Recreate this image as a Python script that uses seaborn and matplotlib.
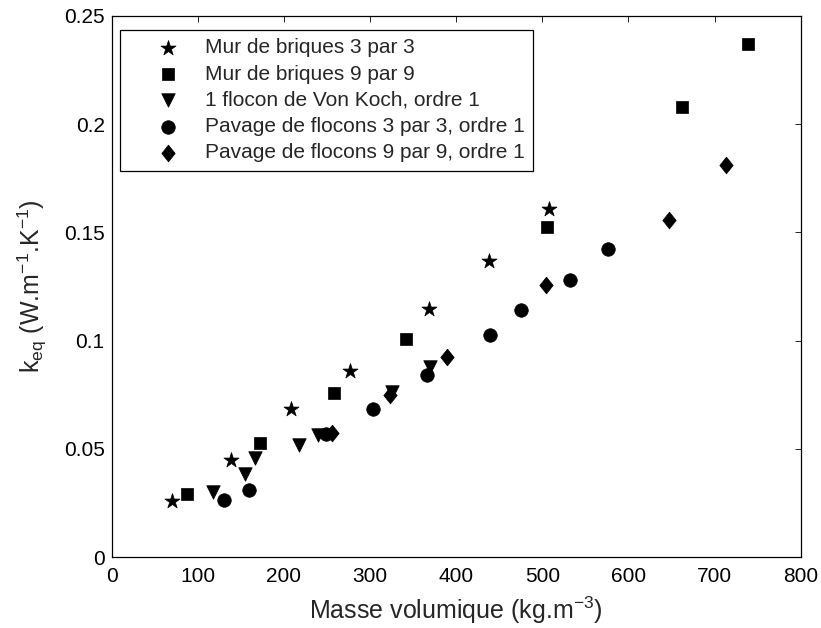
import numpy as np
import pandas as pd
import seaborn as sns
import matplotlib.pyplot as plt
from matplotlib.ticker import FixedLocator

# Values
briques3_x = [70, 139, 208, 277, 369, 438, 508]
briques3_y = [0.0258, 0.0447, 0.0686, 0.0859, 0.1147, 0.1369, 0.1608]

briques9_x = [88, 172, 258, 342, 505, 662, 739]
briques9_y = [0.0294, 0.0527, 0.0760, 0.1007, 0.1524, 0.2078, 0.2371]

flocon_x = [118, 155, 166, 217, 240, 325, 370]
flocon_y = [0.0300, 0.0385, 0.0460, 0.0520, 0.0565, 0.0765, 0.0880]

pavage3_x = [131, 160, 249, 304, 366, 439, 475, 532, 576]
pavage3_y = [0.0266, 0.0310, 0.0568, 0.0686, 0.0840, 0.1027, 0.1140, 0.1278, 0.1423]

pavage9_x = [256, 323, 389, 504, 647, 713]
pavage9_y = [0.0572, 0.0750, 0.0925, 0.1255, 0.1555, 0.1810]

series_names = [
    "Mur de briques 3 par 3",
    "Mur de briques 9 par 9",
    "1 flocon de Von Koch, ordre 1",
    "Pavage de flocons 3 par 3, ordre 1",
    "Pavage de flocons 9 par 9, ordre 1",
]

x_ticks = [0, 100, 200, 300, 400, 500, 600, 700, 800]
y_ticks = [0, 0.05, 0.1, 0.15, 0.2, 0.25]
y_tick_labels = ["0", "0.05", "0.1", "0.15", "0.2", "0.25"]


def build_frame() -> pd.DataFrame:
    parts = []
    for name, xs, ys in zip(series_names,
                            [briques3_x, briques9_x, flocon_x, pavage3_x, pavage9_x],
                            [briques3_y, briques9_y, flocon_y, pavage3_y, pavage9_y]):
        parts.append(pd.DataFrame({"masse": xs, "keq": ys, "serie": name}))
    return pd.concat(parts, ignore_index=True)


def plot(df: pd.DataFrame) -> None:
    sns.set_theme(style="white")
    plt.rcParams["font.family"] = ["Liberation Sans", "DejaVu Sans"]
    plt.rcParams["mathtext.fontset"] = "custom"
    plt.rcParams["mathtext.rm"] = "Liberation Sans"
    plt.rcParams["mathtext.it"] = "Liberation Sans"

    fig = plt.figure(figsize=(8.21, 6.28), dpi=100)
    ax = fig.add_axes([0.136, 0.1126, 0.8392, 0.8624])

    # MATLAB style diamond: a bit taller than wide
    diamond = [(0, 1), (0.8, 0), (0, -1), (-0.8, 0), (0, 1)]
    markers = ["*", "s", "v", "o", diamond]
    sizes = [130, 70, 95, 95, 145]

    for name, m, s in zip(series_names, markers, sizes):
        sub = df[df["serie"] == name]
        sns.scatterplot(data=sub, x="masse", y="keq", marker=m, s=s,
                        color="black", edgecolor="black", linewidth=0.5,
                        label=name, ax=ax)

    ax.set_xlim(0, 800)
    ax.set_ylim(0, 0.25)
    ax.xaxis.set_major_locator(FixedLocator(x_ticks))
    ax.set_xticklabels([str(t) for t in x_ticks])
    ax.yaxis.set_major_locator(FixedLocator(y_ticks))
    ax.set_yticklabels(y_tick_labels)
    ax.tick_params(direction="in", length=4, width=0.6, top=True, right=True,
                   labelsize=15, colors="black")
    ax.tick_params(axis="x", pad=7)
    ax.tick_params(axis="y", pad=5)
    for sp in ax.spines.values():
        sp.set_color("black")
        sp.set_linewidth(0.9)

    ax.set_xlabel(r"Masse volumique (kg.m$^{-3}$)", fontsize=18, labelpad=6)
    ax.set_ylabel(r"k$_{\rm eq}$ (W.m$^{-1}$.K$^{-1}$)", fontsize=18, labelpad=11)

    leg = ax.legend(loc="upper left", bbox_to_anchor=(0.012, 0.9736),
                    borderaxespad=0, fontsize=15, frameon=True, fancybox=False,
                    edgecolor="black", framealpha=1, handletextpad=-0.1,
                    borderpad=0.4, labelspacing=0.35, handlelength=3.8)
    leg.get_frame().set_linewidth(0.9)

    fig.savefig("out.png", dpi=100)


if __name__ == "__main__":
    df = build_frame()
    plot(df)
